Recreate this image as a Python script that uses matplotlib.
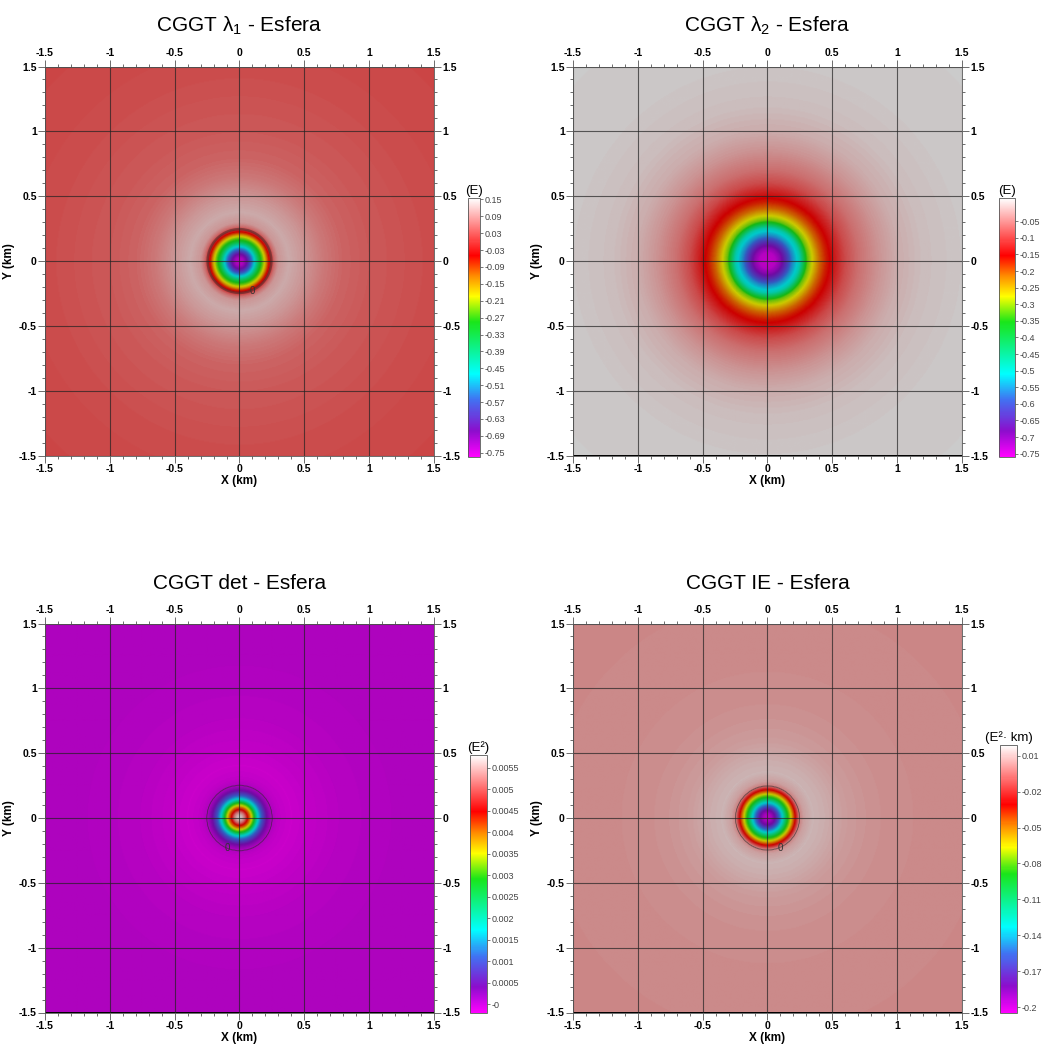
import numpy as np
import matplotlib.pyplot as plt
from matplotlib.colors import LinearSegmentedColormap, Normalize
from matplotlib.cm import ScalarMappable

plt.rcParams['font.family'] = ['Liberation Sans', 'DejaVu Sans']
plt.rcParams['mathtext.fontset'] = 'custom'
plt.rcParams['mathtext.rm'] = 'Liberation Sans'
plt.rcParams['mathtext.it'] = 'Liberation Sans:italic'

# radial profiles of the CGGT invariants over the sphere (r in km)
lam1_r = [0.0, 0.03, 0.06, 0.09, 0.12, 0.15, 0.18, 0.20, 0.22, 0.245,
          0.27, 0.30, 0.38, 0.50, 0.65, 0.8, 1.0, 1.5, 2.2]
lam1 = [-0.75, -0.73, -0.66, -0.56, -0.45, -0.33, -0.24, -0.17, -0.08, 0.0,
        0.06, 0.10, 0.12, 0.10, 0.07, 0.05, 0.04, 0.027, 0.02]

lam2_r = [0.0, 0.06, 0.10, 0.15, 0.19, 0.22, 0.25, 0.31, 0.36, 0.40,
          0.45, 0.52, 0.60, 0.70, 0.85, 1.0, 1.2, 1.5, 2.2]
lam2 = [-0.75, -0.74, -0.70, -0.63, -0.56, -0.52, -0.48, -0.32, -0.26, -0.21,
        -0.17, -0.13, -0.09, -0.06, -0.03, -0.008, 0.006, 0.014, 0.018]

det_r = [0.0, 0.02, 0.04, 0.06, 0.08, 0.09, 0.11, 0.14, 0.17, 0.21,
         0.25, 0.30, 0.40, 0.55, 0.8, 1.2, 2.2]
det = [0.0058, 0.0056, 0.0052, 0.0045, 0.0040, 0.0036, 0.0030, 0.0018, 0.0011, 0.0004,
       0.0, -0.00012, -0.00018, -0.00012, -0.00005, -0.00001, 0.0]

ie_r = [0.0, 0.03, 0.06, 0.09, 0.115, 0.155, 0.18, 0.195, 0.215, 0.245,
        0.28, 0.35, 0.45, 0.6, 0.8, 1.0, 1.5, 2.2]
ie = [-0.2, -0.195, -0.18, -0.155, -0.133, -0.09, -0.068, -0.05, -0.03, 0.0,
      0.008, 0.013, 0.011, 0.007, 0.0045, 0.0035, 0.0025, 0.002]

titles = ['CGGT λ$_1$ - Esfera', 'CGGT λ$_2$ - Esfera',
          'CGGT det - Esfera', 'CGGT IE - Esfera']
units = ['(E)', '(E)', '(E²)', '(E²· km)']
limits = [(-0.765, 0.155), (-0.76, 0.02), (-0.0002, 0.0058), (-0.205, 0.019)]

cb_ticks = [
    [0.15, 0.09, 0.03, -0.03, -0.09, -0.15, -0.21, -0.27, -0.33, -0.39,
     -0.45, -0.51, -0.57, -0.63, -0.69, -0.75],
    [-0.05, -0.1, -0.15, -0.2, -0.25, -0.3, -0.35, -0.4, -0.45, -0.5,
     -0.55, -0.6, -0.65, -0.7, -0.75],
    [0.0055, 0.005, 0.0045, 0.004, 0.0035, 0.003, 0.0025, 0.002, 0.0015,
     0.001, 0.0005, 0.0],
    [0.01, -0.02, -0.05, -0.08, -0.11, -0.14, -0.17, -0.2],
]
cb_labels = [
    ['0.15', '0.09', '0.03', '-0.03', '-0.09', '-0.15', '-0.21', '-0.27', '-0.33',
     '-0.39', '-0.45', '-0.51', '-0.57', '-0.63', '-0.69', '-0.75'],
    ['-0.05', '-0.1', '-0.15', '-0.2', '-0.25', '-0.3', '-0.35', '-0.4', '-0.45',
     '-0.5', '-0.55', '-0.6', '-0.65', '-0.7', '-0.75'],
    ['0.0055', '0.005', '0.0045', '0.004', '0.0035', '0.003', '0.0025', '0.002',
     '0.0015', '0.001', '0.0005', '-0'],
    ['0.01', '-0.02', '-0.05', '-0.08', '-0.11', '-0.14', '-0.17', '-0.2'],
]

axis_ticks = [-1.5, -1, -0.5, 0, 0.5, 1, 1.5]
axis_labels = ['-1.5', '-1', '-0.5', '0', '0.5', '1', '1.5']

# where the "0" contour label sits on each map (None = no contour)
zero_label = [(0.1, -0.235), None, (-0.095, -0.235), (0.1, -0.235)]

# rainbow with white top
cmap = LinearSegmentedColormap.from_list('rainbow_white', [
    (0.00, (1.0, 0.0, 1.0)),
    (0.10, (0.55, 0.05, 0.80)),
    (0.22, (0.25, 0.45, 0.95)),
    (0.32, (0.0, 1.0, 1.0)),
    (0.52, (0.1, 0.9, 0.1)),
    (0.62, (1.0, 1.0, 0.0)),
    (0.70, (1.0, 0.55, 0.0)),
    (0.78, (1.0, 0.0, 0.0)),
    (0.90, (1.0, 0.55, 0.55)),
    (1.00, (1.0, 1.0, 1.0)),
])

profiles = [(lam1_r, lam1), (lam2_r, lam2), (det_r, det), (ie_r, ie)]

W, H = 1050, 1051
ax_boxes = [(45, 456), (573, 456), (45, 1013), (573, 1013)]
cb_boxes = [(468, 457, 12, 259), (999, 457, 16, 259),
            (470, 1013, 17, 258), (1000, 1013, 17, 268)]

fig = plt.figure(figsize=(W / 100, H / 100), dpi=100)

xs = np.linspace(-1.5, 1.5, 401)
X, Y = np.meshgrid(xs, xs)
R = np.hypot(X, Y)

for i in range(4):
    left, bottom = ax_boxes[i]
    ax = fig.add_axes([left / W, (H - bottom) / H, 389 / W, 390 / H])
    ax.set_facecolor('black')
    rr, vv = profiles[i]
    Z = np.interp(R, rr, vv)
    norm = Normalize(vmin=limits[i][0], vmax=limits[i][1])
    ax.imshow(Z, extent=[-1.5, 1.5, -1.5, 1.5], origin='lower', cmap=cmap,
              norm=norm, alpha=0.8, interpolation='bilinear', zorder=0)
    if zero_label[i] is not None:
        lw = 1.8 if i == 0 else 0.7
        al = 0.45 if i == 0 else 0.55
        ax.contour(X, Y, Z, levels=[0.0], colors='#2a2a2a', linewidths=lw,
                   alpha=al, zorder=1)
        ax.text(zero_label[i][0], zero_label[i][1], '0', fontsize=7,
                color='#333333', ha='center', va='center', zorder=2)

    ax.set_xlim(-1.5, 1.5)
    ax.set_ylim(-1.5, 1.5)
    ax.set_xticks(axis_ticks)
    ax.set_xticklabels(axis_labels)
    ax.set_yticks(axis_ticks)
    ax.set_yticklabels(axis_labels)
    ax.set_xticks(np.arange(-1.5, 1.51, 0.1), minor=True)
    ax.set_yticks(np.arange(-1.5, 1.51, 0.1), minor=True)
    ax.tick_params(which='both', direction='out', top=True, right=True,
                   labeltop=True, labelright=True, color='#555555', width=0.6,
                   labelsize=7.5, pad=1)
    ax.tick_params(which='major', length=5)
    ax.tick_params(which='minor', length=2.5)
    for lab in ax.get_xticklabels() + ax.get_yticklabels():
        lab.set_fontweight('bold')
    ax.grid(which='major', color='#222222', linewidth=0.8, alpha=0.7)
    for sp in ax.spines.values():
        sp.set_linewidth(0.6)
        sp.set_color('#555555')
    ax.set_xlabel('X (km)', fontsize=8.5, fontweight='bold', labelpad=1)
    ax.set_ylabel('Y (km)', fontsize=8.5, fontweight='bold', labelpad=3)
    ax.set_title(titles[i], fontsize=15, pad=25)

    cl, cbottom, cw, ch = cb_boxes[i]
    cax = fig.add_axes([cl / W, (H - cbottom) / H, cw / W, ch / H])
    cb = fig.colorbar(ScalarMappable(norm=norm, cmap=cmap), cax=cax)
    cb.set_ticks(cb_ticks[i])
    cb.set_ticklabels(cb_labels[i])
    cb.outline.set_linewidth(0.6)
    cb.outline.set_edgecolor('#555555')
    cax.tick_params(labelsize=6.5, length=2.5, width=0.5, pad=1,
                    colors='#444444')
    cax.set_title(units[i], fontsize=9.5, pad=3)

fig.savefig('out.png', dpi=100)
